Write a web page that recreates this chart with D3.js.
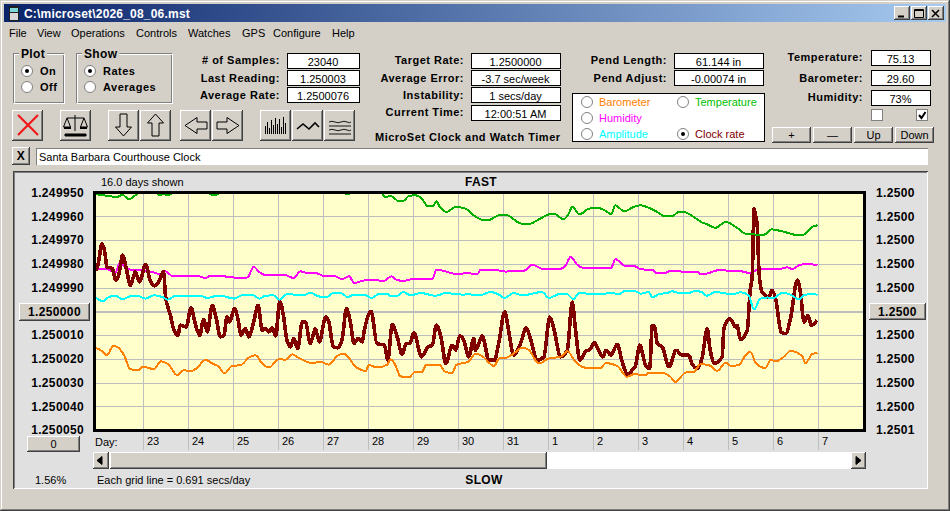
<!DOCTYPE html>
<html>
<head>
<meta charset="utf-8">
<script src="https://cdn.jsdelivr.net/npm/d3@7"></script>
<style>
  html, body { margin: 0; padding: 0; background: #d4d0c8; overflow: hidden; }
  svg { display: block; }
  text { font-family: "Liberation Sans", Arial, sans-serif; font-size: 11px; fill: #000; }
  text.b { font-weight: bold; letter-spacing: 0.5px; }
  text.big { font-size: 12px; letter-spacing: 0.35px; }
</style>
</head>
<body>
<svg id="app" width="950" height="511"></svg>
<script>
// series are [days since start, offset from 1.25 in millionths]
const clockRate = [[-0.04,-17.3],[0.01,-19.4],[0.10,-28.5],[0.16,-25.0],[0.21,-18.7],[0.33,-18.0],[0.40,-13.1],[0.47,-15.2],[0.56,-23.6],[0.64,-18.0],[0.73,-10.9],[0.84,-16.6],[0.93,-12.4],[1.07,-19.6],[1.18,-12.4],[1.27,-10.7],[1.36,-12.4],[1.47,-16.6],[1.51,-6.7],[1.62,1.7],[1.70,8.0],[1.79,10.1],[1.84,5.9],[1.97,6.6],[2.08,-1.4],[2.18,5.9],[2.27,10.1],[2.36,3.4],[2.44,8.7],[2.55,-2.5],[2.64,3.1],[2.73,10.8],[2.81,10.1],[2.88,2.4],[2.94,4.5],[3.04,-1.1],[3.12,3.1],[3.19,10.1],[3.29,7.3],[3.36,10.8],[3.47,4.5],[3.57,-2.5],[3.66,8.0],[3.73,7.3],[3.81,8.7],[3.88,7.0],[3.96,10.4],[4.05,-4.2],[4.13,1.7],[4.21,12.2],[4.29,15.0],[4.36,11.5],[4.45,15.7],[4.55,4.5],[4.62,4.5],[4.73,13.6],[4.84,7.3],[4.93,12.9],[5.07,2.4],[5.14,4.5],[5.24,15.0],[5.34,15.4],[5.44,11.5],[5.53,-1.1],[5.62,4.5],
  [5.70,13.6],[5.79,11.5],[5.88,12.9],[5.93,8.0],[6.08,0],[6.21,13.6],[6.38,14.3],[6.45,20.6],[6.55,5.6],[6.66,10.8],[6.77,18.2],[6.86,13.6],[6.94,13.6],[7.03,9.0],[7.20,19.2],[7.34,15.0],[7.44,14.3],[7.53,5.9],[7.64,11.5],[7.74,22.0],[7.88,14.3],[7.96,16.4],[8.05,10.4],[8.14,12.2],[8.25,19.2],[8.36,11.5],[8.40,16.4],[8.55,10.4],[8.70,20.6],[8.82,20.6],[8.92,12.9],[9.05,0.3],[9.14,8.7],[9.25,18.5],[9.40,13.6],[9.53,7.0],[9.62,11.5],[9.77,20.6],[9.92,19.2],[10.05,2.4],[10.14,7.3],[10.29,19.2],[10.44,16.4],[10.55,-3.9],[10.62,7.3],[10.72,20.6],[10.84,17.1],
  [10.96,15.7],[11.04,13.2],[11.12,15.7],[11.23,19.2],[11.30,16.4],[11.41,18.5],[11.55,13.9],[11.66,21.3],[11.79,26.9],[11.88,24.8],[11.96,22.7],[12.05,14.3],[12.18,22.7],[12.27,24.1],[12.33,5.9],[12.38,6.6],[12.44,13.6],[12.55,15.0],[12.70,23.4],[12.86,16.4],[12.99,18.5],[13.14,18.5],[13.21,22.0],[13.33,24.1],[13.44,19.2],[13.55,7.3],[13.61,15.7],[13.71,22.0],[13.88,19.2],[13.92,7.3],[14.05,3.1],[14.18,6.6],[14.21,5.9],[14.29,11.8],[14.44,8.0],[14.50,-8.1],[14.55,-15.2],[14.59,-43.2],[14.62,-40.4],[14.66,-36.2],[14.70,-16.6],[14.77,-8.1],[14.92,-6.0],[14.99,-8.8],[15.07,-5.3],[15.19,8.7],[15.29,9.4],[15.40,3.1],[15.55,-13.1],[15.62,-8.1],[15.70,4.5],[15.79,1.7],[15.86,5.9],[15.99,3.8]];

const temperature = [[-0.04,-49.3],[0.21,-48.6],[0.44,-48.1],[0.55,-49.1],[0.70,-47.2],[0.84,-48.8],[0.96,-50],[1.29,-50],[1.38,-48.8],[1.47,-49.5],[1.56,-48.8],[1.70,-49.8],[2.40,-50],[2.59,-48.8],[2.77,-50],[5.40,-50],[5.55,-49.4],[5.70,-50],[6.29,-50],[6.40,-48.1],[6.51,-48.6],[6.70,-46.3],[6.81,-46.6],[6.92,-48.6],[7.07,-48.8],[7.21,-47.4],[7.34,-44.2],[7.46,-44.2],[7.53,-46.3],[7.61,-43.9],[7.76,-41.8],[7.96,-43.9],[8.18,-43.2],[8.36,-40.4],[8.59,-38.3],[8.73,-38.6],[8.92,-40.4],[9.10,-40.4],[9.33,-37.6],[9.47,-36.6],[9.62,-36.9],[9.84,-39.0],[10.03,-40.8],[10.14,-41.1],[10.36,-38.7],[10.47,-41.1],[10.55,-43.9],[10.71,-40.8],[10.92,-43.2],[11.10,-43.6],[11.33,-41.8],[11.41,-40.8],[11.51,-44.6],[11.70,-42.1],[11.92,-43.9],[12.07,-44.6],[12.25,-43.6],[12.44,-41.8],[12.59,-40.1],[12.77,-40.1],[12.92,-41.8],[13.03,-41.8],[13.25,-39.7],[13.44,-37.3],[13.55,-36.6],[13.73,-35.1],[13.96,-37.6],[14.21,-35.2],[14.40,-32.7],[14.59,-32.4],[14.73,-32.0],[14.84,-32.4],[14.97,-34.5],[15.18,-33.8],[15.40,-32.7],[15.55,-32.0],[15.70,-32.3],[15.88,-35.5],[16.00,-36.2]];

const humidity = [[-0.04,-17.3],[0.07,-17.7],[0.21,-17.7],[0.40,-16.1],[0.50,-20.5],[0.66,-17.7],[0.96,-17.3],[1.25,-16.3],[1.44,-15.4],[1.51,-16.8],[1.66,-14.9],[2.21,-14.9],[2.40,-14.0],[2.51,-14.9],[2.81,-14.7],[3.03,-14.2],[3.33,-14.2],[3.47,-18.7],[3.59,-16.6],[3.70,-15.4],[4.14,-15.4],[4.36,-14.0],[4.51,-16.8],[4.66,-16.1],[4.84,-16.1],[5.03,-14.9],[5.25,-14.9],[5.44,-13.5],[5.59,-14.7],[5.71,-11.9],[5.88,-12.8],[6.07,-13.2],[6.36,-12.8],[6.53,-14.7],[6.66,-13.1],[6.81,-12.8],[6.99,-13.5],[7.44,-13.6],[7.53,-17.5],[7.73,-16.8],[7.96,-15.7],[8.21,-16.0],[8.45,-15.7],[8.51,-17.5],[8.81,-17.5],[9.07,-16.7],[9.25,-17.0],[9.47,-17.0],[9.66,-19.5],[9.92,-17.7],[10.25,-17.7],[10.40,-19.1],[10.51,-22.9],[10.66,-19.6],[10.77,-18.4],[10.96,-18.4],[11.41,-18.2],[11.51,-21.9],[11.73,-19.1],[11.92,-19.1],[12.07,-17.7],[12.36,-17.3],[12.40,-16.1],[12.62,-16.1],[12.70,-16.8],[12.92,-16.8],[13.03,-16.6],[13.33,-16.7],[13.40,-15.6],[13.59,-16.1],[13.73,-17.1],[13.88,-17.3],[14.03,-17.0],[14.36,-16.7],[14.47,-16.1],[14.73,-17.8],[15.14,-17.7],[15.33,-18.5],[15.44,-17.7],[15.62,-19.6],[15.77,-19.8],[16.00,-19.5]];

const amplitude = [[-0.04,-5.8],[0.13,-4.2],[0.25,-6.0],[0.40,-6.5],[0.55,-5.1],[0.77,-6.5],[0.92,-6.3],[1.07,-5.3],[1.25,-6.7],[1.44,-6.0],[1.56,-4.9],[1.73,-6.5],[2.29,-6.5],[2.44,-5.6],[2.66,-6.5],[2.81,-6.3],[3.03,-5.3],[3.21,-6.7],[3.47,-6.7],[3.59,-5.3],[3.73,-6.5],[3.92,-6.7],[4.04,-4.9],[4.21,-7.2],[4.59,-6.7],[4.73,-7.9],[4.88,-6.5],[5.07,-5.8],[5.25,-7.7],[5.40,-7.7],[5.56,-6.0],[5.70,-7.0],[5.92,-7.0],[6.10,-5.6],[6.25,-7.3],[6.44,-7.4],[6.51,-6.5],[6.66,-6.5],[6.79,-8.1],[6.96,-6.7],[7.18,-7.7],[7.51,-6.5],[7.73,-7.6],[8.14,-7.0],[8.25,-7.3],[8.36,-6.7],[8.55,-7.0],[8.73,-8.1],[8.92,-7.0],[9.04,-5.6],[9.25,-7.7],[9.44,-6.7],[9.88,-8.1],[10.03,-5.6],[10.29,-7.4],[10.44,-7.2],[10.57,-5.1],[10.70,-7.6],[10.96,-7.4],[11.25,-7.4],[11.40,-7.7],[11.59,-7.3],[11.73,-8.6],[11.92,-8.6],[12.07,-7.4],[12.25,-8.1],[12.33,-5.8],[12.47,-7.2],[12.66,-7.7],[12.77,-8.4],[12.92,-7.7],[13.14,-7.7],[13.29,-8.6],[13.44,-7.9],[13.53,-6.5],[13.73,-8.1],[13.99,-7.4],[14.14,-7.2],[14.29,-8.0],[14.47,-6.7],[14.59,-0.7],[14.73,-5.3],[14.88,-5.8],[15.03,-5.6],[15.21,-7.7],[15.40,-7.0],[15.59,-4.9],[15.70,-6.7],[15.92,-7.4],[16.00,-6.7]];

const barometer = [[-0.04,15.4],[0.07,16.4],[0.21,18.5],[0.35,14.6],[0.44,15.0],[0.59,18.5],[0.73,24.4],[0.92,24.8],[0.99,23.4],[1.10,23.7],[1.25,24.4],[1.41,21.1],[1.59,22.7],[1.77,26.9],[1.92,24.8],[2.07,25.3],[2.21,23.9],[2.40,20.4],[2.55,22.0],[2.70,23.4],[2.82,26.2],[2.99,23.0],[3.18,22.7],[3.36,19.6],[3.51,18.5],[3.66,22.0],[3.81,23.7],[4.03,20.2],[4.18,20.4],[4.33,18.1],[4.47,19.6],[4.77,21.8],[4.96,21.3],[5.14,22.5],[5.33,18.8],[5.47,17.8],[5.62,20.4],[5.70,22.7],[5.88,24.8],[5.96,25.3],[6.03,22.7],[6.21,23.7],[6.44,22.5],[6.51,20.2],[6.62,22.7],[6.73,27.4],[6.92,27.8],[7.04,25.8],[7.21,25.5],[7.31,22.5],[7.59,22.5],[7.73,25.5],[7.88,26.0],[7.97,22.7],[8.25,21.1],[8.40,17.8],[8.55,18.9],[8.81,23.0],[8.94,19.6],[9.07,19.6],[9.25,17.8],[9.44,15.3],[9.59,16.4],[9.81,22.0],[10.03,19.9],[10.29,19.2],[10.44,16.8],[10.62,21.3],[10.77,23.4],[10.96,24.1],[11.18,24.1],[11.29,21.8],[11.55,23.0],[11.77,27.6],[11.92,26.5],[12.18,26.9],[12.25,25.8],[12.51,25.8],[12.73,27.6],[12.84,29.8],[13.07,25.8],[13.25,25.5],[13.40,22.3],[13.59,22.7],[13.77,25.1],[13.96,21.6],[14.07,23.0],[14.25,22.7],[14.40,18.5],[14.51,17.1],[14.62,21.6],[14.84,23.9],[14.96,20.4],[15.07,21.1],[15.25,19.2],[15.40,16.7],[15.66,18.9],[15.73,21.8],[15.88,18.1],[16.00,17.4]];

const gridRates = [-50, -40, -30, -20, -10, 0, 10, 20, 30, 40, 50];
const leftLabels = ["1.249950", "1.249960", "1.249970", "1.249980", "1.249990", "1.250000", "1.250010", "1.250020", "1.250030", "1.250040", "1.250050"];
const rightLabels = ["1.2500", "1.2500", "1.2500", "1.2500", "1.2500", "1.2500", "1.2500", "1.2500", "1.2500", "1.2500", "1.2501"];
const dayLabels = ["23", "24", "25", "26", "27", "28", "29", "30", "31", "1", "2", "3", "4", "5", "6", "7"];
const menuItems = [["File", 9], ["View", 37], ["Operations", 71], ["Controls", 136], ["Watches", 188], ["GPS", 242], ["Configure", 273], ["Help", 332]];

const svg = d3.select("#app");
const defs = svg.append("defs");

const titleGrad = defs.append("linearGradient").attr("id", "titleGrad");
titleGrad.append("stop").attr("offset", "0").attr("stop-color", "#0a246a");
titleGrad.append("stop").attr("offset", "1").attr("stop-color", "#a6caf0");

defs.append("clipPath").attr("id", "plotClip")
  .append("rect").attr("x", 94).attr("y", 192).attr("width", 771).attr("height", 238);

// --- small drawing helpers ---

function label(x, y, str, opts = {}) {
  const t = svg.append("text").attr("x", x).attr("y", y).text(str);
  if (opts.bold) t.attr("class", opts.big ? "b big" : "b");
  if (opts.anchor) t.attr("text-anchor", opts.anchor);
  if (opts.fill) t.style("fill", opts.fill);
  return t;
}

function hv(x1, y1, x2, y2, color) {
  svg.append("line").attr("x1", x1).attr("y1", y1).attr("x2", x2).attr("y2", y2)
    .attr("stroke", color).attr("shape-rendering", "crispEdges");
}

function button(x, y, w, h, str, bold) {
  svg.append("rect").attr("x", x).attr("y", y).attr("width", w).attr("height", h).attr("fill", "#d4d0c8");
  hv(x, y + 0.5, x + w, y + 0.5, "#fff");
  hv(x + 0.5, y, x + 0.5, y + h, "#fff");
  hv(x, y + h - 0.5, x + w, y + h - 0.5, "#404040");
  hv(x + w - 0.5, y, x + w - 0.5, y + h, "#404040");
  hv(x + 1, y + h - 1.5, x + w - 1, y + h - 1.5, "#808080");
  hv(x + w - 1.5, y + 1, x + w - 1.5, y + h - 1, "#808080");
  if (str) label(x + w / 2, y + h / 2 + 4, str, { anchor: "middle", bold, big: bold });
}

function readout(x, y, w, h, str) {
  svg.append("rect").attr("x", x + 0.5).attr("y", y + 0.5).attr("width", w).attr("height", h)
    .attr("fill", "#fff").attr("stroke", "#000").attr("shape-rendering", "crispEdges");
  label(x + w / 2, y + h / 2 + 5, str, { anchor: "middle" });
}

function radio(x, y, on) {
  svg.append("circle").attr("cx", x).attr("cy", y).attr("r", 5.5).attr("fill", "#fff").attr("stroke", "#808080");
  if (on) svg.append("circle").attr("cx", x).attr("cy", y).attr("r", 2).attr("fill", "#000");
}

function groupBox(x, y, w, h, title) {
  svg.append("rect").attr("x", x + 0.5).attr("y", y + 0.5).attr("width", w).attr("height", h)
    .attr("fill", "none").attr("stroke", "#808080").attr("shape-rendering", "crispEdges");
  svg.append("rect").attr("x", x + 1.5).attr("y", y + 1.5).attr("width", w).attr("height", h)
    .attr("fill", "none").attr("stroke", "#fff").attr("shape-rendering", "crispEdges");
  const t = label(x + 8, y + 5, title, { bold: true, big: true });
  const len = t.node().getComputedTextLength();
  svg.insert("rect", "text:last-of-type").attr("x", x + 6).attr("y", y - 2).attr("width", len + 4).attr("height", 6).attr("fill", "#d4d0c8");
}

function icon(d, opts = {}) {
  svg.append("path").attr("d", d)
    .attr("fill", opts.fill || "none")
    .attr("stroke", opts.stroke || "#000")
    .attr("stroke-width", opts.width || 1);
}

// --- window frame ---

svg.append("rect").attr("width", 950).attr("height", 511).attr("fill", "#d4d0c8");
hv(1, 1.5, 949, 1.5, "#fff");
hv(1.5, 1, 1.5, 510, "#fff");
hv(0, 510.5, 950, 510.5, "#404040");
hv(949.5, 0, 949.5, 511, "#404040");
hv(1, 509.5, 949, 509.5, "#808080");
hv(948.5, 1, 948.5, 510, "#808080");

svg.append("rect").attr("x", 4).attr("y", 4).attr("width", 942).attr("height", 18).attr("fill", "url(#titleGrad)");
label(24, 17.5, "C:\\microset\\2026_08_06.mst", { bold: true, big: true, fill: "#fff" }).style("letter-spacing", "0.2px");

svg.append("rect").attr("x", 9).attr("y", 6).attr("width", 10).attr("height", 15).attr("fill", "#202020");
svg.append("rect").attr("x", 10).attr("y", 8).attr("width", 8).attr("height", 4).attr("fill", "#7fd8d8");
svg.append("rect").attr("x", 10).attr("y", 13).attr("width", 8).attr("height", 7).attr("fill", "#d8d8d8");

button(894, 6, 16, 14);
button(911, 6, 16, 14);
button(928, 6, 16, 14);
icon("M898,16.5H904", { width: 2 });
icon("M914.5,9.5h9v8h-9zM914.5,10.5h9");
icon("M932,10l7,7M939,10l-7,7", { width: 1.6 });

menuItems.forEach(([name, x]) => label(x, 36.5, name));

// --- top controls ---

groupBox(13, 53, 50, 49, "Plot");
radio(27, 71, true);
radio(27, 87, false);
label(40, 75, "On", { bold: true });
label(40, 91, "Off", { bold: true });

groupBox(76, 53, 95, 49, "Show");
radio(90, 71, true);
radio(90, 87, false);
label(103, 75, "Rates", { bold: true });
label(103, 91, "Averages", { bold: true });

label(280, 64, "# of Samples:", { bold: true, anchor: "end" });
label(280, 82, "Last Reading:", { bold: true, anchor: "end" });
label(280, 99, "Average Rate:", { bold: true, anchor: "end" });
readout(287, 53, 72, 15, "23040");
readout(287, 70, 72, 15, "1.250003");
readout(287, 87, 72, 15, "1.2500076");

label(464, 64, "Target Rate:", { bold: true, anchor: "end" });
label(464, 82, "Average Error:", { bold: true, anchor: "end" });
label(464, 99, "Instability:", { bold: true, anchor: "end" });
label(464, 116, "Current Time:", { bold: true, anchor: "end" });
readout(471, 53, 89, 15, "1.2500000");
readout(471, 70, 89, 15, "-3.7 sec/week");
readout(471, 87, 89, 15, "1 secs/day");
readout(471, 105, 89, 15, "12:00:51 AM");
label(375, 141, "MicroSet Clock and Watch Timer", { bold: true });

label(667, 64, "Pend Length:", { bold: true, anchor: "end" });
label(667, 82, "Pend Adjust:", { bold: true, anchor: "end" });
readout(674, 53, 89, 15, "61.144 in");
readout(674, 70, 89, 15, "-0.00074 in");

svg.append("rect").attr("x", 572.5).attr("y", 93.5).attr("width", 192).attr("height", 48)
  .attr("fill", "#fff").attr("stroke", "#000").attr("shape-rendering", "crispEdges");
radio(587, 102, false);
radio(683, 102, false);
radio(587, 118, false);
radio(587, 134, false);
radio(683, 134, true);
label(599, 106, "Barometer", { fill: "#ff8000" });
label(695, 106, "Temperature", { fill: "#00c000" });
label(599, 122, "Humidity", { fill: "#ff00ff" });
label(599, 138, "Amplitude", { fill: "#00ffff" });
label(695, 138, "Clock rate", { fill: "#800000" });

label(863, 61, "Temperature:", { bold: true, anchor: "end" });
label(863, 82, "Barometer:", { bold: true, anchor: "end" });
label(863, 101, "Humidity:", { bold: true, anchor: "end" });
readout(871, 50, 59, 15, "75.13");
readout(871, 70, 59, 15, "29.60");
readout(871, 90, 59, 15, "73%");

[871, 916].forEach((x) => {
  svg.append("rect").attr("x", x + 0.5).attr("y", 109.5).attr("width", 11).attr("height", 11)
    .attr("fill", "#fff").attr("stroke", "#808080").attr("shape-rendering", "crispEdges");
});
icon("M919,115l2.5,3l4,-6", { width: 2 });

button(772, 127, 39, 16, "+");
button(813, 127, 39, 16, "—");
button(854, 127, 39, 16, "Up");
button(895, 127, 39, 16, "Down");

// --- toolbar buttons and their glyphs ---

[12, 60, 108, 140, 180, 212, 260, 292, 324].forEach((x) => button(x, 110, 31, 31));
icon("M18,115l20,20M38,115l-20,20", { stroke: "#f01818", width: 2.2 });
icon("M75,115v16M67,118h17M67,118l-3.5,9h7zM84,118l-3.5,9h7z");
icon("M65,134h21v2h-21z", { fill: "#000" });
icon("M64,128h7M80,128h7", { width: 2 });
icon("M120,114h7v13h4.5l-8,9l-8,-9h4.5z", { fill: "#d4d0c8" });
icon("M152,136h7v-13h4.5l-8,-9l-8,9h4.5z", { fill: "#d4d0c8" });
icon("M207,122v7h-10v4.5l-12,-8l12,-8v4.5z", { fill: "#d4d0c8" });
icon("M217,122v7h10v4.5l12,-8l-12,-8v4.5z", { fill: "#d4d0c8" });
d3.range(11).forEach((i) => {
  icon(`M${265.5 + i * 2},134V${[126, 122, 128, 120, 125, 118, 124, 119, 127, 117, 123][i]}`);
});
icon("M297,129l6,-5l6,5l6,-6l4,4", { width: 1.6 });
icon("M329,122q3,-1.5 6,0t6,0t6,0t4,0M329,126h22M329,130q3,-1.5 6,0t6,0t6,0t4,0M329,134h22", { width: 0.9 });

button(12, 147, 18, 18, "X", true);
svg.append("rect").attr("x", 36).attr("y", 148).attr("width", 892).attr("height", 17).attr("fill", "#fff");
hv(36, 148.5, 928, 148.5, "#808080");
hv(36.5, 148, 36.5, 165, "#808080");
label(39, 161, "Santa Barbara Courthouse Clock");

// --- chart panel ---

svg.append("rect").attr("x", 13).attr("y", 171).attr("width", 915).attr("height", 318).attr("fill", "#e0e0e0");
hv(13, 171.5, 928, 171.5, "#404040");
hv(13.5, 171, 13.5, 489, "#404040");
hv(14, 172.5, 928, 172.5, "#808080");
hv(14.5, 172, 14.5, 489, "#808080");
hv(14, 488.5, 928, 488.5, "#fff");
hv(927.5, 172, 927.5, 489, "#fff");

svg.append("rect").attr("x", 95).attr("y", 192.5).attr("width", 769.5).attr("height", 238).attr("fill", "#ffffcc");

const x = d3.scaleLinear().domain([0, 16]).range([97.5, 817.5]);
const y = d3.scaleLinear().domain([-50, 50]).range([192.5, 430]);

function styleGrid(g) {
  g.attr("font-family", null).attr("font-size", null);
  g.select(".domain").remove();
  g.selectAll(".tick line").attr("stroke", "#bebebe").attr("shape-rendering", "crispEdges");
}

const hGrid = svg.append("g").attr("transform", "translate(95,0)")
  .call(d3.axisRight(y).tickValues(gridRates).tickSize(770).tickFormat(""));
styleGrid(hGrid);
hGrid.selectAll(".tick").filter((d) => d === 0).select("line").attr("stroke-width", 2);

const dayAxis = svg.append("g").attr("transform", "translate(0,450)")
  .call(d3.axisBottom(x).tickValues(d3.range(1, 17)).tickSizeInner(-257).tickSizeOuter(0)
    .tickFormat((d) => dayLabels[d - 1]));
styleGrid(dayAxis);
dayAxis.selectAll("text").attr("text-anchor", "start").attr("x", 4).attr("y", -5).attr("dy", null);

const leftAxis = svg.append("g").attr("transform", "translate(93,0)")
  .call(d3.axisLeft(y).tickValues(gridRates).tickSize(0).tickPadding(9)
    .tickFormat((d, i) => (d === 0 ? "" : leftLabels[i])));
styleGrid(leftAxis);
leftAxis.selectAll("text").attr("class", "b big");

const rightAxis = svg.append("g").attr("transform", "translate(866,0)")
  .call(d3.axisRight(y).tickValues(gridRates).tickSize(0).tickPadding(10)
    .tickFormat((d, i) => (d === 0 ? "" : rightLabels[i])));
styleGrid(rightAxis);
rightAxis.selectAll("text").attr("class", "b big");

const line = d3.line().curve(d3.curveMonotoneX).x((d) => x(d[0])).y((d) => y(d[1]));

const seriesDraw = [
  [humidity, "#ff00ff", 2],
  [clockRate, "#800000", 3.6],
  [barometer, "#ff8000", 2],
  [amplitude, "#00ffff", 2],
  [temperature, "#00b000", 2],
];
seriesDraw.forEach(([data, color, width]) => {
  svg.append("path").datum(data).attr("d", line)
    .attr("clip-path", "url(#plotClip)")
    .attr("fill", "none").attr("stroke", color).attr("stroke-width", width)
    .attr("stroke-linejoin", "round").attr("shape-rendering", "crispEdges");
});

svg.append("rect").attr("x", 94.5).attr("y", 192).attr("width", 770).attr("height", 238.5)
  .attr("fill", "none").attr("stroke", "#000").attr("stroke-width", 3).attr("shape-rendering", "crispEdges");

button(19, 303, 71, 18, leftLabels[5], true);
button(869, 303, 57, 17, rightLabels[5], true);
button(27, 436, 53, 16, "0");

label(101, 186, "16.0 days shown");
label(481, 186, "FAST", { bold: true, big: true, anchor: "middle" });
label(484, 484, "SLOW", { bold: true, big: true, anchor: "middle" });
label(95, 446, "Day:");
label(35, 484, "1.56%");
label(97, 484, "Each grid line = 0.691 secs/day");

// scrollbar under the plot
svg.append("rect").attr("x", 93).attr("y", 452).attr("width", 772).attr("height", 17).attr("fill", "#fff");
button(110, 452, 437, 17);
button(93, 452, 16, 17);
button(851, 452, 15, 17);
icon("M97,460.5l5,-4v8z", { fill: "#000" });
icon("M861,460.5l-5,-4v8z", { fill: "#000" });
</script>
</body>
</html>
